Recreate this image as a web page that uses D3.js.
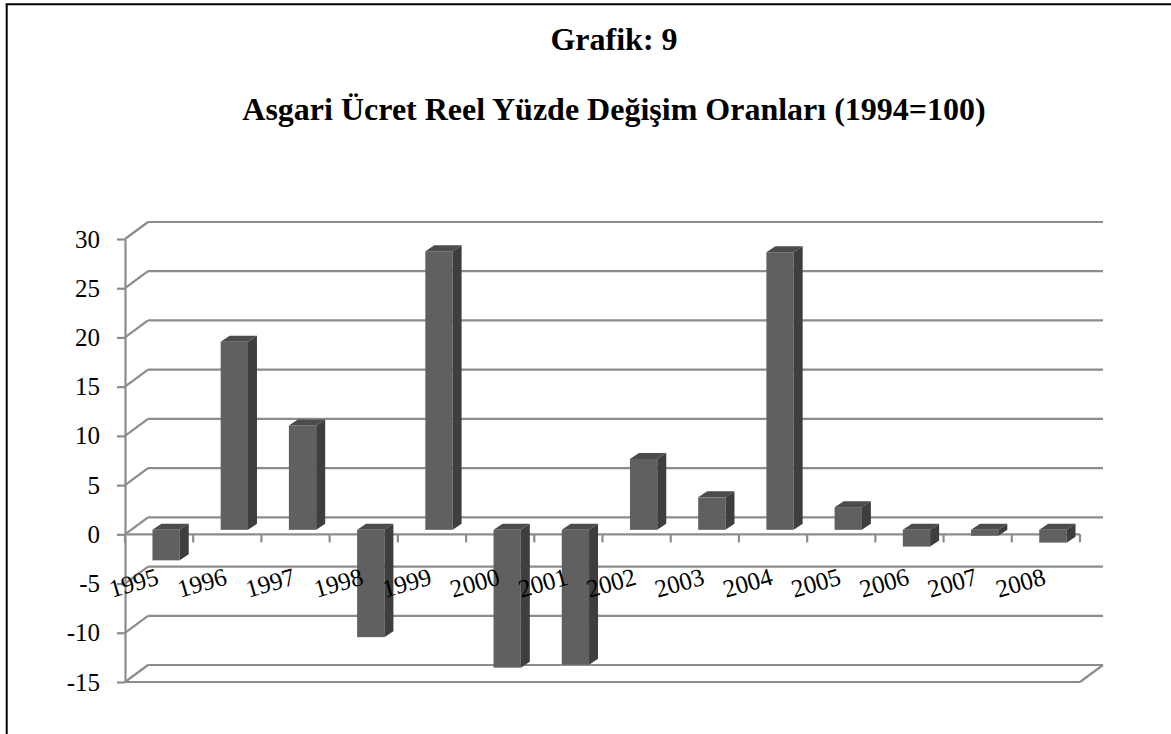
<!DOCTYPE html>
<html>
<head>
<meta charset="utf-8">
<script src="https://cdn.jsdelivr.net/npm/d3@7"></script>
<style>
  html, body { margin: 0; padding: 0; background: #fff; }
  text { font-family: "Liberation Serif", "Times New Roman", serif; }
</style>
</head>
<body>
<svg id="chart" width="1171" height="734"></svg>
<script>
var years = ["1995", "1996", "1997", "1998", "1999", "2000", "2001",
             "2002", "2003", "2004", "2005", "2006", "2007", "2008"];
var values = [-3.1, 19.1, 10.6, -10.9, 28.3, -14.0, -13.7,
              7.2, 3.3, 28.2, 2.3, -1.7, -0.6, -1.3];
var yTicks = [30, 25, 20, 15, 10, 5, 0, -5, -10, -15];

var svg = d3.select("#chart");

// 3d offsets: full wall depth, bar front face, bar back face
var depth = { dx: 23, dy: -17 };
var barFront = { dx: 7, dy: -4.5 };
var barBack = { dx: 16, dy: -10.5 };

var grid = "#8c8c8c";

var x = d3.scaleBand()
    .domain(years)
    .range([125, 1080]);

var y = d3.scaleLinear()
    .domain([-15, 30])
    .range([682, 239]);

// frame
svg.append("line").attr("x1", 6.7).attr("y1", 4).attr("x2", 6.7).attr("y2", 734)
    .style("stroke", "#000").style("stroke-width", 2);
svg.append("line").attr("x1", 5.7).attr("y1", 4.2).attr("x2", 1171).attr("y2", 4.2)
    .style("stroke", "#000").style("stroke-width", 2);

// titles
svg.append("text")
    .attr("x", 614).attr("y", 50)
    .attr("text-anchor", "middle")
    .style("font-size", "32px").style("font-weight", "bold")
    .text("Grafik: 9");

svg.append("text")
    .attr("x", 614).attr("y", 120)
    .attr("text-anchor", "middle")
    .style("font-size", "32px").style("font-weight", "bold")
    .text("Asgari Ücret Reel Yüzde Değişim Oranları (1994=100)");

// back wall gridlines + side wall diagonals
var x0 = x.range()[0],
    x1 = x.range()[1];

svg.selectAll(".grid_back")
    .data(yTicks)
    .join("line")
    .attr("class", "grid_back")
    .attr("x1", x0 + depth.dx)
    .attr("x2", x1 + depth.dx)
    .attr("y1", function (d) { return y(d) + depth.dy; })
    .attr("y2", function (d) { return y(d) + depth.dy; })
    .style("stroke", grid).style("stroke-width", 2.2);

svg.selectAll(".grid_side")
    .data(yTicks)
    .join("line")
    .attr("class", "grid_side")
    .attr("x1", x0)
    .attr("x2", x0 + depth.dx)
    .attr("y1", function (d) { return y(d); })
    .attr("y2", function (d) { return y(d) + depth.dy; })
    .style("stroke", grid).style("stroke-width", 2.2);

// floor front edge and right diagonal
var floorV = y.domain()[0];
svg.append("line")
    .attr("x1", x0).attr("x2", x1)
    .attr("y1", y(floorV)).attr("y2", y(floorV))
    .style("stroke", grid).style("stroke-width", 2.2);
svg.append("line")
    .attr("x1", x1).attr("x2", x1 + depth.dx)
    .attr("y1", y(floorV)).attr("y2", y(floorV) + depth.dy)
    .style("stroke", grid).style("stroke-width", 2.2);

// y axis (plain hyphen for negatives, like the original)
var yAxis = svg.append("g")
    .attr("transform", "translate(" + x0 + ",0)")
    .call(d3.axisLeft(y)
        .tickValues(yTicks)
        .tickFormat(function (d) { return String(d); })
        .tickSize(8).tickSizeOuter(0).tickPadding(17));
yAxis.selectAll("path, line").style("stroke", grid).style("stroke-width", 2.2);
yAxis.selectAll("text")
    .style("font-family", "'Liberation Serif', serif")
    .style("font-size", "25px")
    .style("fill", "#000");

// category axis at zero, front
svg.append("line")
    .attr("x1", x0).attr("x2", x1)
    .attr("y1", y(0)).attr("y2", y(0))
    .style("stroke", grid).style("stroke-width", 2.2);

svg.selectAll(".xtick")
    .data(years.concat(["end"]))
    .join("line")
    .attr("class", "xtick")
    .attr("x1", function (d, i) { return x0 + i * x.step(); })
    .attr("x2", function (d, i) { return x0 + i * x.step(); })
    .attr("y1", y(0))
    .attr("y2", y(0) + 8)
    .style("stroke", grid).style("stroke-width", 2.2);

// bars
var barW = x.bandwidth() * 0.4;

var bars = svg.selectAll(".bar")
    .data(years.map(function (d, i) { return { year: d, value: values[i] }; }))
    .join("g")
    .attr("class", "bar");

function bx(d) {
    return x(d.year) + (x.bandwidth() - barW) / 2;
}

// front face
bars.append("rect")
    .attr("x", function (d) { return bx(d) + barFront.dx; })
    .attr("y", function (d) { return y(Math.max(d.value, 0)) + barFront.dy; })
    .attr("width", barW)
    .attr("height", function (d) { return Math.abs(y(d.value) - y(0)); })
    .style("fill", "#606060");

// top face
bars.append("path")
    .attr("d", function (d) {
        var l = bx(d), r = l + barW, t = y(Math.max(d.value, 0));
        return "M" + (l + barFront.dx) + "," + (t + barFront.dy) +
            "L" + (r + barFront.dx) + "," + (t + barFront.dy) +
            "L" + (r + barBack.dx) + "," + (t + barBack.dy) +
            "L" + (l + barBack.dx) + "," + (t + barBack.dy) + "Z";
    })
    .style("fill", "#4c4c4c");

// side face
bars.append("path")
    .attr("d", function (d) {
        var r = bx(d) + barW,
            t = y(Math.max(d.value, 0)),
            b = y(Math.min(d.value, 0));
        return "M" + (r + barFront.dx) + "," + (t + barFront.dy) +
            "L" + (r + barBack.dx) + "," + (t + barBack.dy) +
            "L" + (r + barBack.dx) + "," + (b + barBack.dy) +
            "L" + (r + barFront.dx) + "," + (b + barFront.dy) + "Z";
    })
    .style("fill", "#3e3e3e");

// category labels sit on top of the bars
svg.selectAll(".xlabel")
    .data(years)
    .join("text")
    .attr("class", "xlabel")
    .attr("text-anchor", "end")
    .attr("transform", function (d) {
        return "translate(" + (x(d) + x.bandwidth() / 2 + 1) + "," + 584 + ") rotate(-16)";
    })
    .style("font-size", "25px")
    .style("fill", "#000")
    .text(function (d) { return d; });
</script>
</body>
</html>
